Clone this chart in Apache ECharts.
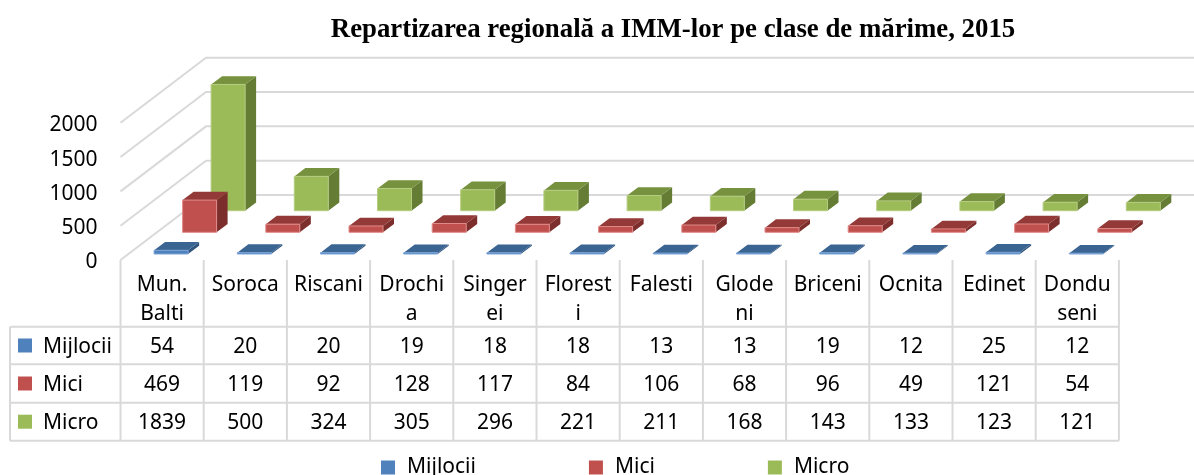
<!DOCTYPE html>
<html lang="ro">

<head>
    <meta charset="UTF-8">
    <title>Repartizarea regionala</title>
    <style>
        * {
            margin: 0;
            padding: 0;
        }

        html,
        body,
        #chart {
            width: 1194px;
            height: 475px;
            overflow: hidden;
            background: #fff;
        }
    </style>
</head>

<body>
    <div id="chart"></div>
    <script src="https://cdn.jsdelivr.net/npm/echarts@6/dist/echarts.min.js"></script>
    <script>
        const titleText = 'Repartizarea regională a IMM-lor pe clase de mărime, 2015';
        const categories = ['Mun.\nBalti', 'Soroca', 'Riscani', 'Drochi\na', 'Singer\nei', 'Florest\ni', 'Falesti', 'Glode\nni', 'Briceni', 'Ocnita', 'Edinet', 'Dondu\nseni'];
        const mijlocii = [54, 20, 20, 19, 18, 18, 13, 13, 19, 12, 25, 12];
        const mici = [469, 119, 92, 128, 117, 84, 106, 68, 96, 49, 121, 54];
        const micro = [1839, 500, 324, 305, 296, 221, 211, 168, 143, 133, 123, 121];
        const yTicks = [0, 500, 1000, 1500, 2000];

        const FONT = '"Noto Sans", sans-serif';
        const FONT_SIZE = 21;
        const TEXT_COLOR = '#000';
        const GRID_LEFT = 120.5;
        const COL_W = 83.2;
        const BACK_DX = 85.5; // wall depth in px
        const BACK_DY = 65;
        const GRID_COLOR = '#d9d9d9';
        const ROW_LINES = [326.7, 364.3, 402.7, 440.7];

        // pseudo 3d column: front, side and top faces, sheared by the series depth
        function barRenderer(shiftX, shiftY, colors) {
            return function(params, api) {
                let top = api.coord([api.value(0), api.value(1)]);
                let base = api.coord([api.value(0), 0]);
                let cx = base[0] + shiftX;
                let x0 = cx - 17;
                let x1 = cx + 17;
                let yb = base[1] - shiftY;
                let yt = top[1] - shiftY;
                let dx = 11;
                let dy = 8.3;
                return {
                    type: 'group',
                    children: [{
                        type: 'polygon',
                        shape: { points: [[x1, yb], [x1 + dx, yb - dy], [x1 + dx, yt - dy], [x1, yt]] },
                        style: { fill: colors.side }
                    }, {
                        type: 'polygon',
                        shape: { points: [[x0, yt], [x1, yt], [x1 + dx, yt - dy], [x0 + dx, yt - dy]] },
                        style: { fill: colors.top }
                    }, {
                        type: 'rect',
                        shape: { x: x0, y: yt, width: x1 - x0, height: yb - yt },
                        style: { fill: colors.front, stroke: colors.edge, lineWidth: 1 }
                    }]
                };
            };
        }

        function wallLine(params, api) {
            let rect = params.coordSys;
            let y = api.coord([0, api.value(0)])[1];
            return {
                type: 'polyline',
                shape: {
                    points: [
                        [rect.x, y],
                        [rect.x + BACK_DX, y - BACK_DY],
                        [rect.x + rect.width + BACK_DX, y - BACK_DY]
                    ]
                },
                style: { fill: 'none', stroke: GRID_COLOR, lineWidth: 2 }
            };
        }

        function toBarData(values) {
            return values.map(function(v, i) {
                return [i, v];
            });
        }

        function buildTable() {
            let items = [];
            let rows = [
                { name: 'Mijlocii', values: mijlocii, color: '#4f81bd' },
                { name: 'Mici', values: mici, color: '#c0504d' },
                { name: 'Micro', values: micro, color: '#9bbb59' }
            ];
            let right = GRID_LEFT + COL_W * categories.length;
            let line = { stroke: GRID_COLOR, lineWidth: 2 };

            ROW_LINES.forEach(function(y) {
                items.push({ type: 'line', shape: { x1: 10, y1: y, x2: right, y2: y }, style: line });
            });
            items.push({ type: 'line', shape: { x1: 10, y1: ROW_LINES[0], x2: 10, y2: ROW_LINES[3] }, style: line });
            for (let i = 0; i <= categories.length; i++) {
                let x = GRID_LEFT + COL_W * i;
                items.push({ type: 'line', shape: { x1: x, y1: 260, x2: x, y2: ROW_LINES[3] }, style: line });
            }

            rows.forEach(function(row, r) {
                let cy = (ROW_LINES[r] + ROW_LINES[r + 1]) / 2;
                items.push({
                    type: 'rect',
                    shape: { x: 18, y: cy - 7, width: 14, height: 14 },
                    style: { fill: row.color }
                });
                items.push({
                    type: 'text',
                    x: 43,
                    y: cy + 1.5,
                    style: { text: row.name, font: FONT_SIZE + 'px ' + FONT, fill: TEXT_COLOR, verticalAlign: 'middle' }
                });
                row.values.forEach(function(v, i) {
                    items.push({
                        type: 'text',
                        x: GRID_LEFT + COL_W * (i + 0.5),
                        y: cy + 1.5,
                        style: { text: String(v), font: FONT_SIZE + 'px ' + FONT, fill: TEXT_COLOR, align: 'center', verticalAlign: 'middle' }
                    });
                });
            });
            return items;
        }

        let option = {
            animation: false,
            backgroundColor: '#fff',
            title: {
                text: titleText,
                left: 668,
                top: 12,
                textAlign: 'center',
                textStyle: { fontFamily: '"Liberation Serif", serif', fontWeight: 'bold', fontSize: 26.8, color: '#000' }
            },
            legend: {
                data: ['Mijlocii', 'Mici', 'Micro'],
                left: 381,
                top: 457,
                padding: 0,
                icon: 'rect',
                itemWidth: 14,
                itemHeight: 14,
                itemGap: 113,
                textStyle: { fontFamily: FONT, fontSize: FONT_SIZE, color: TEXT_COLOR, padding: [0, 0, 0, 7] }
            },
            grid: {
                left: GRID_LEFT,
                top: 122.7,
                width: COL_W * categories.length,
                height: 137.3
            },
            xAxis: {
                type: 'category',
                data: categories,
                axisLine: { show: false },
                axisTick: { show: false },
                axisLabel: {
                    interval: 0,
                    margin: 10,
                    lineHeight: 29.5,
                    verticalAlign: 'top',
                    fontFamily: FONT,
                    fontSize: FONT_SIZE,
                    color: TEXT_COLOR
                }
            },
            yAxis: {
                type: 'value',
                min: 0,
                max: 2000,
                interval: 500,
                splitLine: { show: false },
                axisLine: { show: false },
                axisTick: { show: false },
                axisLabel: {
                    margin: 23,
                    formatter: function(v) {
                        return '{t|' + v + '}';
                    },
                    rich: {
                        t: {
                            padding: [5, 0, 0, 0],
                            fontFamily: FONT,
                            fontSize: FONT_SIZE,
                            color: TEXT_COLOR
                        }
                    }
                }
            },
            graphic: buildTable(),
            series: [{
                type: 'custom',
                name: 'walls',
                data: yTicks.map(function(v) { return [v]; }),
                encode: { y: 0 },
                renderItem: wallLine,
                silent: true,
                z: 1
            }, {
                type: 'custom',
                name: 'Micro',
                data: toBarData(micro),
                itemStyle: { color: '#9bbb59' },
                encode: { x: 0, y: 1 },
                renderItem: barRenderer(66, 49.3, { front: '#9bbb59', top: '#77923f', side: '#647c33', edge: '#b5cc80' }),
                z: 2
            }, {
                type: 'custom',
                name: 'Mici',
                data: toBarData(mici),
                itemStyle: { color: '#c0504d' },
                encode: { x: 0, y: 1 },
                renderItem: barRenderer(37.5, 27.7, { front: '#c0504d', top: '#933a38', side: '#7b2e2c', edge: '#e08a88' }),
                z: 3
            }, {
                type: 'custom',
                name: 'Mijlocii',
                data: toBarData(mijlocii),
                itemStyle: { color: '#4f81bd' },
                encode: { x: 0, y: 1 },
                renderItem: barRenderer(9, 6, { front: '#4f81bd', top: '#3a6492', side: '#30547d', edge: '#7ba3d6' }),
                z: 4
            }]
        };

        let myChart = echarts.init(document.getElementById('chart'));
        myChart.setOption(option);
    </script>
</body>

</html>
